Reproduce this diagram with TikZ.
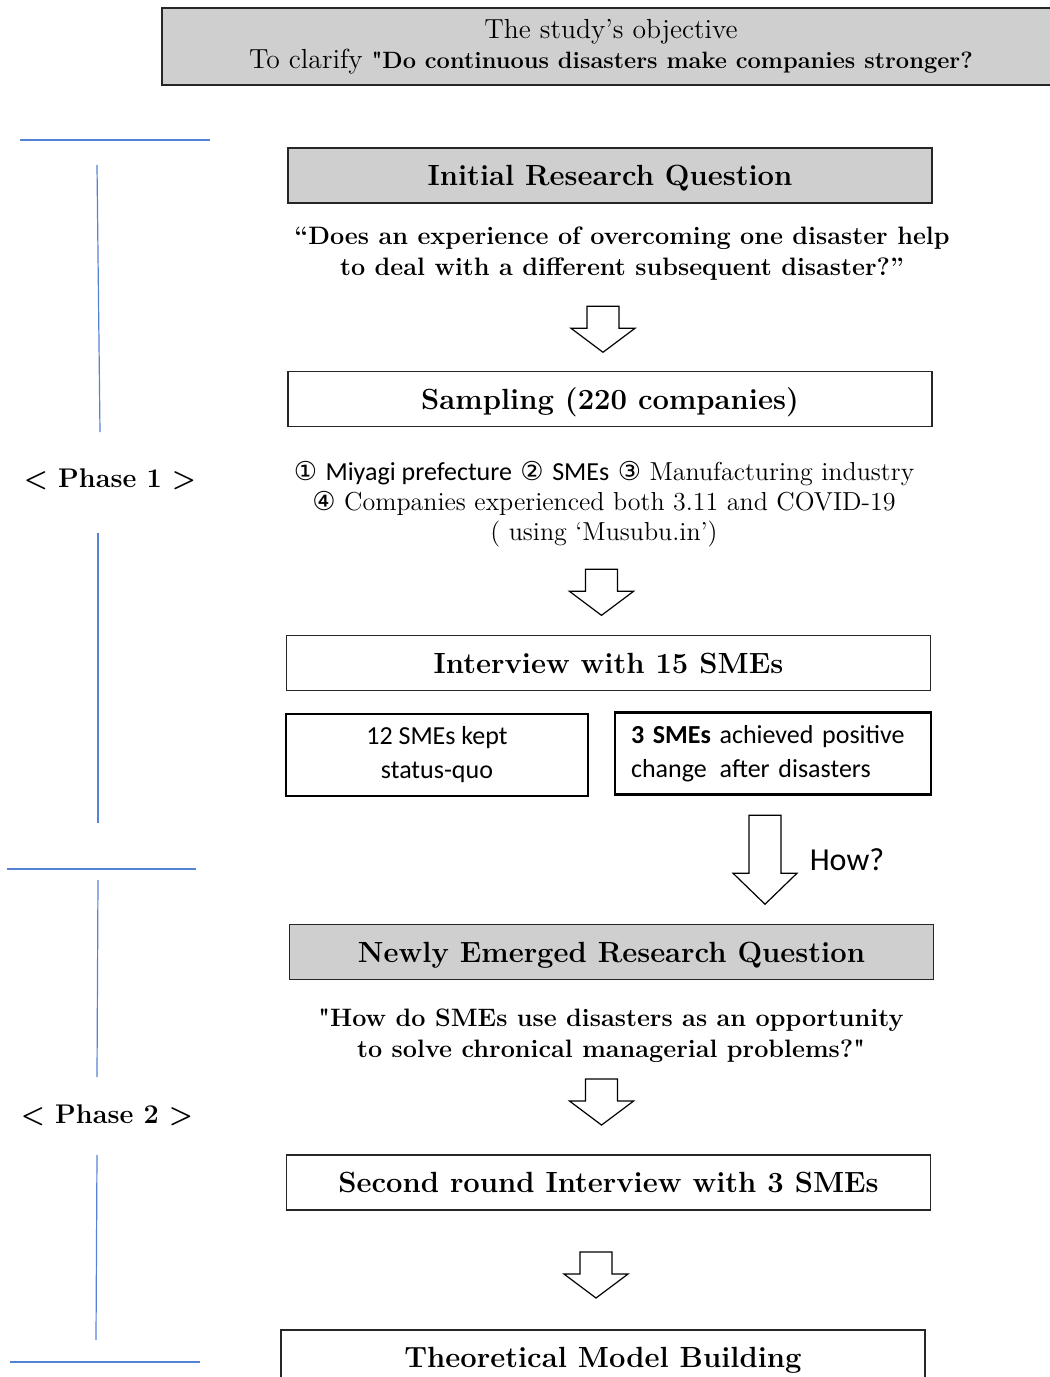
\documentclass[tikz,border=0pt]{standalone}
\usepackage{fontspec}
\usetikzlibrary{calc}
\newfontfamily\calibri{Carlito}
\newfontfamily\dejavu{DejaVu Sans}
\definecolor{boxgray}{RGB}{208,207,208}
\definecolor{phaseblue}{RGB}{84,130,212}
\tikzset{
  stepbox/.style={draw=black!85, line width=0.8pt, minimum width=322pt, minimum height=27.5pt,
    inner sep=0pt, text depth=0pt, font=\fontsize{14.6}{17}\selectfont\bfseries},
  questionbox/.style={stepbox, fill=boxgray},
  questtext/.style={align=center, font=\fontsize{12.6}{15.5}\selectfont\bfseries},
  smebox/.style={draw, line width=1.2pt, minimum width=#1, minimum height=41pt, inner sep=0pt,
    font=\calibri\fontsize{13}{17}\selectfont},
  phaselabel/.style={font=\fontsize{13.5}{16}\selectfont\bfseries},
  phaseline/.style={phaseblue, line width=0.6pt},
  pics/blockarrow/.style n args={2}{code={
    \pgfmathsetmacro\halflen{(#1+#2)/2}
    \draw[line width=0.6pt, fill=white] (-16,-\halflen) -- (16,-\halflen) -- (16,-\halflen+#1)
      -- (32,-\halflen+#1) -- (0,\halflen) -- (-32,-\halflen+#1) -- (-16,-\halflen+#1) -- cycle;
  }}
}
\begin{document}
\begin{tikzpicture}[y={-0.5pt}, x={0.5pt}]
  \useasboundingbox (0,0) rectangle (1050,1377);
  % objective
  \node[draw=black!85, line width=0.8pt, fill=boxgray, minimum width=449pt, minimum height=38.5pt,
    inner sep=0pt, align=center, font=\fontsize{13.8}{14.5}\selectfont] (objective) at (611,46.5)
    {\raisebox{-3.5pt}{The study’s objective}\\\raisebox{-4pt}{To clarify {\fontsize{11.8}{14.5}\selectfont\bfseries
     \textquotedbl Do continuous disasters make companies stronger?}}};
  % phase 1
  \node[questionbox] (initq) at (610,175.5) {Initial Research Question};
  \node[questtext] (initquote) at (622,254)
    {“Does an experience of overcoming one disaster help\\to deal with a different subsequent disaster?”};
  \node[stepbox] (sampling) at (610,399) {Sampling (220 companies)};
  \node[align=center, font=\fontsize{13}{15}\selectfont] (criteria) at (604,504)
    {{\dejavu ①} {\calibri Miyagi prefecture} {\dejavu ②} {\calibri SMEs} {\dejavu ③} Manufacturing industry\\
     {\dejavu ④} Companies experienced both 3.11 and COVID-19\\( using ‘Musubu.in’)};
  \node[stepbox] (interview) at (608.5,663) {Interview with 15 SMEs};
  \node[smebox=151pt, align=center] (statusquo) at (437,755) {12 SMEs kept\\status-quo};
  \node[smebox=158pt, align=left, text width=142pt] (positive) at (773,753.5)
    {{\bfseries 3 SMEs} achieved positive\\change\hspace{0.5em}after disasters};
  \node[font=\calibri\fontsize{16}{18}\selectfont] (how) at (847,860) {How?};
  % phase 2
  \node[questionbox] (newq) at (611.5,952) {Newly Emerged Research Question};
  \node[questtext] (newquote) at (611,1036)
    {\textquotedbl How do SMEs use disasters as an opportunity\\to solve chronical managerial problems?\textquotedbl};
  \node[stepbox] (second) at (608.5,1182.5) {Second round Interview with 3 SMEs};
  \node[stepbox] (model) at (603,1357.5) {Theoretical Model Building};
  % arrows
  \foreach \a/\b/\dy in {initquote/sampling/0, criteria/interview/-2, newquote/second/-10, second/model/5}
    \pic at ([xshift=-3.5pt, yshift=-\dy*0.5pt]$(\b.north |- \a.south)!.5!(\b.north)$) {blockarrow={22}{24}};
  \pic at ([xshift=-4pt]$(positive.south)!.5!(positive.south |- newq.north)$) {blockarrow={58}{31}};
  % phases
  \node[phaselabel] (phaseone) at (110,479) {< Phase 1 >};
  \node[phaselabel] (phasetwo) at (107,1115) {< Phase 2 >};
  \draw[phaseline] (20,140) -- (210,140);
  \draw[phaseline] (97,165) -- (100,432);
  \draw[phaseline] (98,533) -- (98,823);
  \draw[phaseline] (7,869) -- (196,869);
  \draw[phaseline] (98,880) -- (97,1077);
  \draw[phaseline] (97,1155) -- (96,1340);
  \draw[phaseline] (10,1362) -- (200,1362);
\end{tikzpicture}
\end{document}
